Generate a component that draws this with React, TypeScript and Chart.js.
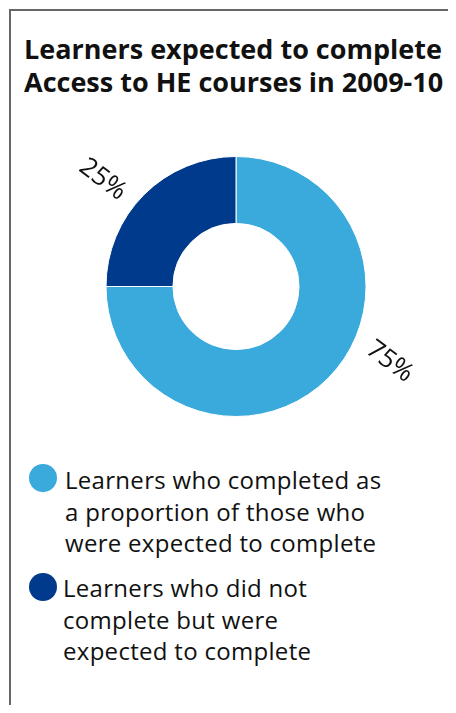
import React, { useEffect, useRef } from "react";
import { Chart, registerables } from "chart.js";

Chart.register(...registerables);

const TITLE_LINES = ["Learners expected to complete", "Access to HE courses in 2009-10"];
const CATEGORIES = [
  "Learners who completed as a proportion of those who were expected to complete",
  "Learners who did not complete but were expected to complete",
];
const LEGEND_LINES = [
  ["Learners who completed as", "a proportion of those who", "were expected to complete"],
  ["Learners who did not", "complete but were", "expected to complete"],
];
const VALUES = [75, 25];
const COLORS = ["#3aa9dc", "#003a8c"];

const FONT = "'Open Sans', 'DejaVu Sans', sans-serif";
const LABEL_POS = 0.43;
const LABEL_OFFSET = 41;
const LABEL_ROT = 37;

const labelPlugin = {
  id: "sliceLabels",
  afterDatasetsDraw(chart: any) {
    const meta = chart.getDatasetMeta(0);
    const ctx = chart.ctx;
    const data = chart.data.datasets[0].data as number[];
    const total = data.reduce((s, v) => s + v, 0);
    meta.data.forEach((arc: any, i: number) => {
      const p = arc.getProps(["x", "y", "startAngle", "endAngle", "outerRadius"], true);
      const a = p.startAngle + (p.endAngle - p.startAngle) * LABEL_POS;
      const r = p.outerRadius + LABEL_OFFSET;
      ctx.save();
      ctx.translate(p.x + r * Math.cos(a), p.y + r * Math.sin(a));
      ctx.rotate((LABEL_ROT * Math.PI) / 180);
      ctx.font = `26px ${FONT}`;
      ctx.fillStyle = "#111";
      ctx.textAlign = "center";
      ctx.textBaseline = "middle";
      ctx.fillText(`${Math.round((data[i] / total) * 100)}%`, 0, 0);
      ctx.restore();
    });
  },
};

export default function App() {
  const ref = useRef<HTMLCanvasElement>(null);
  useEffect(() => {
    if (!ref.current) return;
    const chart = new Chart(ref.current, {
      type: "doughnut",
      data: {
        labels: CATEGORIES,
        datasets: [
          {
            data: VALUES,
            backgroundColor: COLORS,
            borderColor: "#ffffff",
            borderWidth: 1,
          },
        ],
      },
      options: {
        animation: false,
        responsive: false,
        cutout: "48.5%",
        layout: { padding: { left: 8, top: 28, bottom: 41, right: 0 } },
        plugins: { legend: { display: false }, tooltip: { enabled: false }, title: { display: false } },
      },
      plugins: [labelPlugin],
    });
    return () => chart.destroy();
  }, []);

  return (
    <div style={{ position: "relative", margin: -8, width: 456, height: 713, background: "#fff", overflow: "hidden", fontFamily: FONT }}>
      <div style={{ position: "absolute", left: 9, top: 9, width: 2, height: 704, background: "#666" }} />
      <div style={{ position: "absolute", left: 9, top: 9, width: 447, height: 2, background: "#666" }} />
      <div style={{ position: "absolute", left: 24, top: 32, fontWeight: 700, fontSize: 27, lineHeight: "33px", color: "#111", whiteSpace: "nowrap" }}>
        {TITLE_LINES.map((t, i) => (
          <div key={i}>{t}</div>
        ))}
      </div>
      <canvas ref={ref} width={448} height={330} style={{ position: "absolute", left: 8, top: 128, width: 448, height: 330 }} />
      {LEGEND_LINES.map((lines, i) => (
        <div key={i}>
          <div style={{ position: "absolute", left: 29, top: (i === 0 ? 478 : 587) - 14, width: 28, height: 28, borderRadius: 14, background: COLORS[i] }} />
          <div style={{ position: "absolute", left: i === 0 ? 65 : 63, top: i === 0 ? 464 : 572, fontSize: 24, letterSpacing: 0.3, lineHeight: "31.5px", color: "#111", whiteSpace: "nowrap" }}>
            {lines.map((l, j) => (
              <div key={j}>{l}</div>
            ))}
          </div>
        </div>
      ))}
    </div>
  );
}
